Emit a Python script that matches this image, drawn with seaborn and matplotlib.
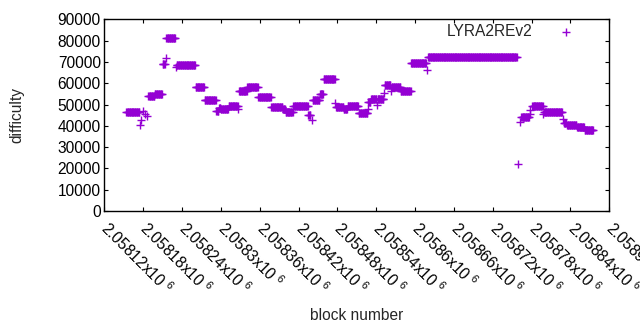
import numpy as np
import pandas as pd
import matplotlib
matplotlib.use('Agg')
import matplotlib.pyplot as plt
import seaborn as sns

# difficulty stays flat over runs of blocks: first block, last block, value
run_start = [2058154, 2058175, 2058177, 2058180, 2058183, 2058186, 2058188, 2058198,
             2058210, 2058215, 2058216, 2058230, 2058232, 2058261, 2058275, 2058293,
             2058297, 2058300, 2058312, 2058327, 2058328, 2058341, 2058358, 2058378,
             2058396, 2058400, 2058412, 2058435, 2058441, 2058442, 2058453, 2058459,
             2058477, 2058478, 2058490, 2058496, 2058513, 2058527, 2058528, 2058532,
             2058541, 2058542, 2058552, 2058553, 2058563, 2058564, 2058578, 2058594,
             2058619, 2058620, 2058759, 2058762, 2058764, 2058777, 2058778, 2058781,
             2058798, 2058799, 2058828, 2058830, 2058835, 2058850, 2058862]
run_end = [2058174, 2058175, 2058177, 2058180, 2058183, 2058186, 2058197, 2058209,
           2058213, 2058215, 2058229, 2058230, 2058260, 2058274, 2058292, 2058296,
           2058299, 2058311, 2058326, 2058327, 2058340, 2058357, 2058377, 2058395,
           2058399, 2058411, 2058434, 2058438, 2058441, 2058452, 2058458, 2058476,
           2058477, 2058489, 2058495, 2058512, 2058526, 2058527, 2058531, 2058540,
           2058541, 2058551, 2058552, 2058562, 2058563, 2058577, 2058593, 2058617,
           2058619, 2058757, 2058759, 2058762, 2058776, 2058777, 2058778, 2058797,
           2058798, 2058827, 2058828, 2058833, 2058849, 2058861, 2058875]
run_value = [46700, 40600, 42600, 47000, 45500, 44500, 54200, 55000,
             68800, 72000, 81400, 67600, 68700, 58000, 51900, 47000,
             48500, 47800, 49400, 47800, 56200, 58000, 53300, 49000,
             47800, 46700, 49400, 45000, 42500, 51900, 55100, 62100,
             50900, 48800, 47700, 49400, 45800, 48000, 51000, 52400,
             50000, 52400, 55200, 59000, 56400, 58100, 56400, 69400,
             66300, 72400, 21900, 42000, 43900, 45500, 47500, 49400,
             45700, 46700, 43200, 41500, 40300, 39400, 38000]

xtick_values = list(range(2058120, 2058901, 60))
ytick_values = list(range(0, 90001, 10000))

blocks = np.concatenate([np.arange(s, e + 1) for s, e in zip(run_start, run_end)])
diffs = np.concatenate([np.full(e - s + 1, v) for s, e, v in zip(run_start, run_end, run_value)])
df = pd.DataFrame({'block': blocks, 'difficulty': diffs})

sns.set_style('white')
plt.rcParams['font.family'] = ['Liberation Sans', 'DejaVu Sans']
plt.rcParams['mathtext.default'] = 'regular'
fs = 11.2

fig = plt.figure(figsize=(6.4, 3.3), dpi=100)
ax = fig.add_axes([0.163, 0.3606, 0.789, 0.5809])

sns.scatterplot(data=df, x='block', y='difficulty', marker='+', color='#9400d3',
                s=30, linewidth=1.0, label='LYRA2REv2', ax=ax)

ax.set_xlim(2058120, 2058900)
ax.set_ylim(0, 90000)
ax.set_xticks(xtick_values)
ax.set_xticklabels([f'{v / 1e6:g}x10 $^{{6}}$' for v in xtick_values],
                   rotation=-45, ha='left', va='center', rotation_mode='anchor', fontsize=fs)
ax.set_yticks(ytick_values)
ax.set_yticklabels([str(v) for v in ytick_values], fontsize=fs)
ax.tick_params(direction='in', length=3, width=0.8, top=True, right=True,
               bottom=True, left=True, colors='black')
ax.tick_params(axis='x', pad=10)
ax.tick_params(axis='y', pad=2.5)
for sp in ax.spines.values():
    sp.set_visible(True)
    sp.set_color('black')
    sp.set_linewidth(1.0)

ax.set_xlabel('block number', fontsize=fs, va='center')
ax.xaxis.set_label_coords(0.5, -0.545)
ax.set_ylabel('difficulty', fontsize=fs, va='center')
ax.yaxis.set_label_coords(-0.173, 0.5)

ax.legend(loc='upper right', bbox_to_anchor=(0.946, 0.975), frameon=False,
          markerfirst=False, fontsize=fs, handlelength=2, handletextpad=1.2,
          borderpad=0, borderaxespad=0)

fig.savefig('out.png', dpi=100)
